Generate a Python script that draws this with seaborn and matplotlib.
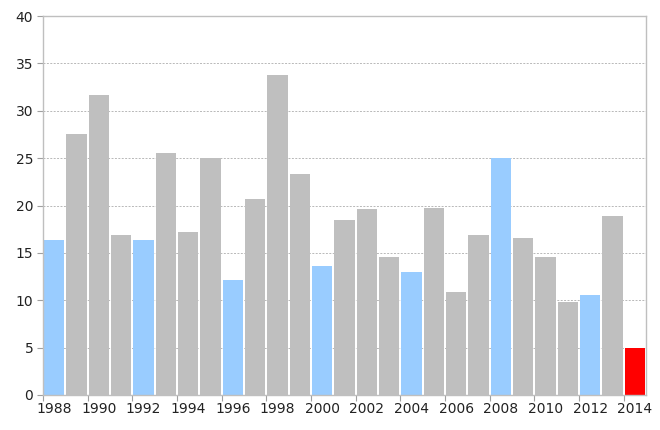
import matplotlib
matplotlib.use("Agg")
import matplotlib.pyplot as plt
import seaborn as sns
import pandas as pd
import numpy as np

years = list(range(1988, 2015))
values = [16.4, 27.5, 31.7, 16.9, 16.4, 25.5, 17.2, 25.0, 12.1, 20.7,
          33.8, 23.3, 13.6, 18.5, 19.6, 14.6, 13.0, 19.7, 10.9, 16.9,
          25.0, 16.6, 14.6, 9.85, 10.55, 18.9, 5.0]
highlight_years = [1988, 1992, 1996, 2000, 2004, 2008, 2012]
latest_year = 2014

GRAY = "#BFBFBF"
BLUE = "#99CCFF"
RED = "#FF0000"

colors = [RED if y == latest_year else (BLUE if y in highlight_years else GRAY) for y in years]

df = pd.DataFrame({"year": [str(y) for y in years], "value": values})

sns.set_theme(style="white")
plt.rcParams['font.family'] = ['DejaVu Sans']

fig = plt.figure(figsize=(6.6, 4.3), dpi=100)
ax = fig.add_axes([43/660, 35/430, (646-43)/660, (395-16)/430])

sns.barplot(data=df, x="year", y="value", hue="year", palette=colors,
            legend=False, width=0.9, saturation=1, ax=ax, edgecolor="none")

ax.set_ylim(0, 40)
ax.set_xlim(-0.5, len(years) - 0.5)
ax.set_yticks(np.arange(0, 41, 5))
ax.yaxis.grid(True, linestyle=(0, (2, 1.5)), color="#B8B8B8", linewidth=0.7)
ax.set_axisbelow(True)

# labels every 2nd category, tick marks between categories
ax.set_xticks(range(0, len(years), 2))
ax.set_xticklabels([str(y) for y in years[::2]])
ax.set_xticks(np.arange(-0.5, len(years) - 1, 2), minor=True)
ax.tick_params(axis="x", which="major", length=0, pad=5, labelsize=10, labelcolor="#222222")
ax.tick_params(axis="x", which="minor", length=4, width=0.8, color="#A0A0A0", bottom=True)
ax.tick_params(axis="y", which="major", length=4, width=0.8, color="#A0A0A0", left=True,
               labelsize=10, labelcolor="#222222", pad=3)

for s in ax.spines.values():
    s.set_visible(True)
    s.set_color("#BFBFBF")
    s.set_linewidth(1)

ax.set_xlabel("")
ax.set_ylabel("")

fig.savefig("out.png", dpi=100)
